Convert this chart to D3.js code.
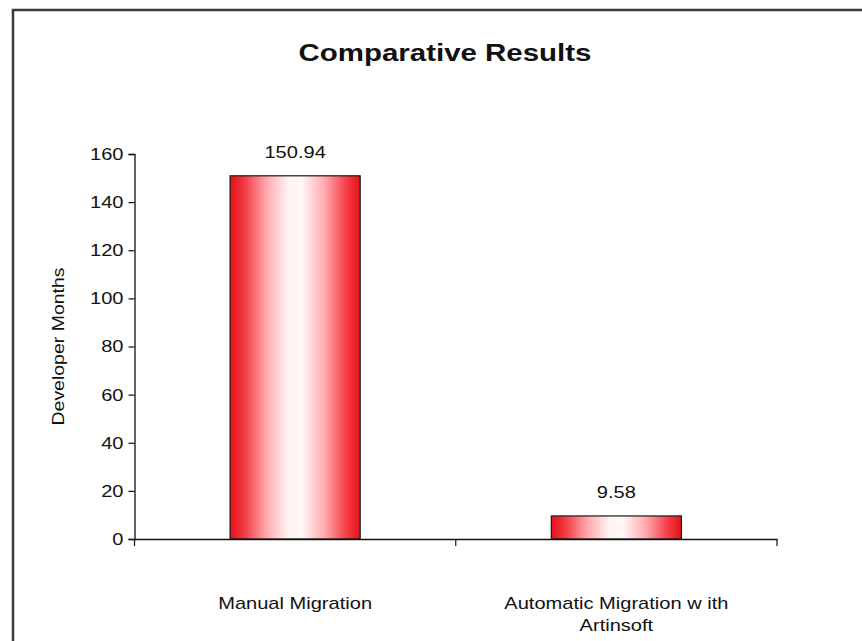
<!DOCTYPE html>
<html>
<head>
<meta charset="utf-8">
<script src="https://cdn.jsdelivr.net/npm/d3@7"></script>
<style>
  html, body { margin: 0; padding: 0; background: #fff; }
  svg { display: block; }
  text { font-family: "Liberation Sans", Arial, sans-serif; fill: #111; }
</style>
</head>
<body>
<svg id="chart" width="862" height="641"></svg>
<script>
// Chart data
const categoryKeys = ["Manual Migration", "Automatic Migration with Artinsoft"];
const categoryLines = [["Manual Migration"], ["Automatic Migration w ith", "Artinsoft"]];
const values = [150.94, 9.58];
const valueLabels = ["150.94", "9.58"];
const yTicks = [0, 20, 40, 60, 80, 100, 120, 140, 160];
const chartTitle = "Comparative Results";
const yAxisTitle = "Developer Months";

const svg = d3.select("#chart");

// Outer frame
svg.append("rect")
  .attr("x", 13).attr("y", 10)
  .attr("width", 880).attr("height", 660)
  .attr("fill", "none")
  .attr("stroke", "#3a3a3a")
  .attr("stroke-width", 2.5);

// Plot region
const plotLeft = 134.5, plotRight = 777, plotTop = 154, plotBottom = 539;

const x = d3.scaleBand().domain(categoryKeys).range([plotLeft, plotRight]).paddingInner(0).paddingOuter(0);
const y = d3.scaleLinear().domain([0, 160]).range([plotBottom, plotTop]);

// Horizontal red-white-red gradient for the bars
const defs = svg.append("defs");
const grad = defs.append("linearGradient").attr("id", "barGrad")
  .attr("x1", "0%").attr("x2", "100%").attr("y1", "0%").attr("y2", "0%");
[[0, "#e3121a"], [0.1, "#f2353e"], [0.28, "#ffa9ae"], [0.45, "#fff4f4"], [0.55, "#fff6f6"],
 [0.72, "#ffadb2"], [0.9, "#f53a43"], [1, "#e3121a"]]
  .forEach(([o, c]) => grad.append("stop").attr("offset", o).attr("stop-color", c));

// Bars
const barW = x.bandwidth() * 0.405;
svg.selectAll("rect.bar")
  .data(values)
  .join("rect")
  .attr("class", "bar")
  .attr("x", (d, i) => x(categoryKeys[i]) + x.bandwidth() / 2 - barW / 2)
  .attr("y", d => y(d))
  .attr("width", barW)
  .attr("height", d => y(0) - y(d))
  .attr("fill", "url(#barGrad)")
  .attr("stroke", "#1a1a1a")
  .attr("stroke-width", 1.2);

// Value labels
svg.selectAll("text.val")
  .data(values)
  .join("text")
  .attr("class", "val wide")
  .attr("x", (d, i) => x(categoryKeys[i]) + x.bandwidth() / 2)
  .attr("y", d => y(d) - 18)
  .attr("text-anchor", "middle")
  .attr("font-size", 17)
  .text((d, i) => valueLabels[i]);

// Y axis
const yAxis = d3.axisLeft(y).tickValues(yTicks).tickSize(6).tickPadding(5).tickFormat(d3.format("d"));
const gy = svg.append("g").attr("transform", `translate(${plotLeft},0)`).call(yAxis);
gy.select(".domain").attr("stroke", "#111").attr("stroke-width", 1.3);
gy.selectAll(".tick line").attr("stroke", "#111").attr("stroke-width", 1.2);
gy.selectAll(".tick text").attr("class", "wide").attr("font-size", 17).attr("fill", "#111")
  .attr("font-family", "'Liberation Sans', Arial, sans-serif");

// X axis
const xAxis = d3.axisBottom(x).tickSize(0).tickFormat("");
const gx = svg.append("g").attr("transform", `translate(0,${plotBottom})`).call(xAxis);
gx.select(".domain").attr("stroke", "#111").attr("stroke-width", 1.3);
// Category separator ticks at band edges
const edges = [plotLeft, plotLeft + x.bandwidth(), plotRight];
gx.selectAll("line.sep").data(edges).join("line").attr("class", "sep")
  .attr("x1", d => d).attr("x2", d => d).attr("y1", 0).attr("y2", 7)
  .attr("stroke", "#111").attr("stroke-width", 1.2);

// Category labels, one text element per line
categoryLines.forEach((lines, i) => {
  const cx = x(categoryKeys[i]) + x.bandwidth() / 2;
  lines.forEach((ln, j) => {
    svg.append("text").attr("class", "wide")
      .attr("x", cx).attr("y", 609 + j * 22)
      .attr("text-anchor", "middle").attr("font-size", 17)
      .text(ln);
  });
});

// Title
svg.append("text")
  .attr("class", "title")
  .attr("x", 445).attr("y", 61)
  .attr("text-anchor", "middle")
  .attr("font-size", 23).attr("font-weight", "bold")
  .text(chartTitle);

// Y axis title
svg.append("text")
  .attr("class", "wide")
  .attr("transform", `translate(64,${(plotTop + plotBottom) / 2}) rotate(-90)`)
  .attr("text-anchor", "middle")
  .attr("font-size", 16.5)
  .text(yAxisTitle);

// Widen the lettering to the chart's broad typeface proportions
function widen(sel, factor) {
  sel.each(function () {
    const w = this.getComputedTextLength();
    d3.select(this).attr("textLength", w * factor).attr("lengthAdjust", "spacingAndGlyphs");
  });
}
widen(svg.selectAll("text.wide"), 1.18);
widen(svg.selectAll("text.title"), 1.28);
</script>
</body>
</html>
